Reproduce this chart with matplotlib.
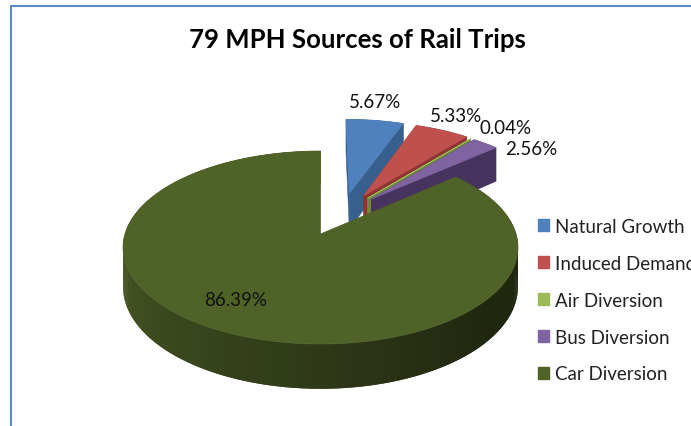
import numpy as np
import matplotlib
matplotlib.use("Agg")
import matplotlib.pyplot as plt
from matplotlib.patches import Polygon, Patch
from matplotlib.colors import to_rgb
from matplotlib.transforms import IdentityTransform

categories = ["Natural Growth", "Induced Demand", "Air Diversion", "Bus Diversion", "Car Diversion"]
shares = [5.67, 5.33, 0.04, 2.56, 86.39]
label_texts = ["5.67%", "5.33%", "0.04%", "2.56%", "86.39%"]
top_colors = ["#4F81BD", "#C0504D", "#9BBB59", "#8064A2", "#4F6228"]
side_colors = ["#38608F", "#8E3432", "#6F8A3C", "#46345E", "#3C4B1E"]
explode = [(0.157, -0.46), (0.235, -0.43), (0.255, -0.40), (0.275, -0.39), (0.0, 0.0)]
label_xy = [(375, 103), (456, 116), (506, 128), (531, 150), (236, 301)]

CX, CY, A, B, K, H = 320.5, 235, 195.5, 94.6, 0.14, 38.5

plt.rcParams["font.family"] = ["Lato", "DejaVu Sans"]
fig = plt.figure(figsize=(6.91, 4.27), dpi=100)
ax = fig.add_axes([0, 0, 1, 1])
ax.set_xlim(0, 691)
ax.set_ylim(427, 0)
ax.axis("off")


def project(u, v, drop=0.0):
    w = 1 - K * v
    return CX + A * u / w, CY + (B * v + drop) / w


def rim(t0, t1, off, n):
    ts = np.radians(np.linspace(t0, t1, n))
    return off[0] + np.sin(ts), off[1] - np.cos(ts)


dark = np.array(to_rgb("#20270F"))
light = np.array(to_rgb("#4B5C28"))


def wall_colour(t):
    return tuple(dark + (light - dark) * np.clip((t - 130) / 150, 0, 1))


angle = 0.0
totals = sum(shares)
for i, share in enumerate(shares):
    t0 = angle
    t1 = angle + share / totals * 360
    angle = t1
    off = explode[i]
    n = max(3, int((t1 - t0) * 1.5))
    us, vs = rim(t0, t1, off, n)
    mids = np.linspace(t0, t1, n)
    # outer wall, each strip overlapping the next to avoid seams
    for j in range(n - 1):
        k = min(j + 2, n - 1)
        quad = [project(us[j], vs[j]), project(us[k], vs[k]),
                project(us[k], vs[k], H), project(us[j], vs[j], H)]
        col = wall_colour(mids[j]) if i == 4 else side_colors[i]
        ax.add_patch(Polygon(quad, closed=True, fc=col, ec="none", zorder=i + 1))
    # cut faces
    for k in (0, n - 1):
        quad = [project(*off), project(us[k], vs[k]),
                project(us[k], vs[k], H), project(*off, H)]
        if i < 4:
            ax.add_patch(Polygon(quad, closed=True, fc=side_colors[i], ec=side_colors[i],
                                 lw=0.4, zorder=i + 1.1))
    # top face
    pts = [project(*off)] + [project(u, v) for u, v in zip(us, vs)]
    ax.add_patch(Polygon(pts, closed=True, fc=top_colors[i], ec=top_colors[i],
                         lw=0.5, zorder=i + 1.2))

for txt, (x, y) in zip(label_texts, label_xy):
    ax.text(x, y, txt, ha="center", va="center", fontsize=13.5, color="#111111", zorder=10)

ax.text(357, 40, "79 MPH Sources of Rail Trips", ha="center", va="center",
        fontsize=18.5, fontweight="bold", color="#000000", zorder=10)

handles = [Patch(fc=c, ec=c) for c in top_colors]
leg = ax.legend(handles, categories, loc="upper left", bbox_to_anchor=(538, 427 - 219),
                bbox_transform=IdentityTransform(),
                frameon=False, fontsize=13.5, handlelength=0.6, handleheight=0.6,
                handletextpad=0.3, labelspacing=1.06, borderpad=0, borderaxespad=0,
                labelcolor="#222222")
leg.set_zorder(10)

line = "#5B8BC6"
ax.plot([11.5, 691], [6.5, 6.5], color=line, lw=1.5, solid_capstyle="butt", zorder=11)
ax.plot([11.5, 11.5], [6, 427], color=line, lw=1.5, solid_capstyle="butt", zorder=11)

fig.savefig("out.png", dpi=100)
